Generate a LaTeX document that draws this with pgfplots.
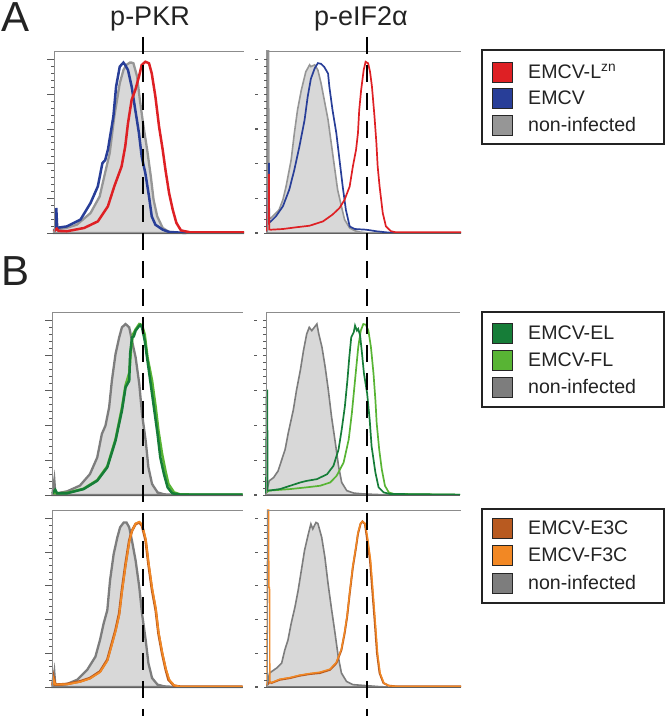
\documentclass[border=0pt]{standalone}
\usepackage{fontspec}
\setmainfont{Liberation Sans}
\usepackage{pgfplots}
\pgfplotsset{compat=1.18}
\definecolor{cred}{RGB}{222,32,36}
\definecolor{cblue}{RGB}{40,62,152}
\definecolor{grayA}{RGB}{150,150,150}
\definecolor{grayB}{RGB}{125,125,125}
\definecolor{fillgray}{RGB}{216,216,216}
\definecolor{cdgreen}{RGB}{22,125,56}
\definecolor{clgreen}{RGB}{88,180,52}
\definecolor{cbrown}{RGB}{184,90,32}
\definecolor{corange}{RGB}{242,136,36}
\definecolor{axgray}{RGB}{140,140,140}
\definecolor{axdark}{RGB}{95,95,95}
\definecolor{tickgray}{RGB}{90,90,90}
\definecolor{txt}{RGB}{35,35,35}
\tikzset{topline/.style={color=axgray, line width=0.9pt}}
\pgfplotsset{
  hist/.style={scale only axis, ymin=0, ymax=105, clip=false, axis on top,
    axis x line=bottom, axis y line=left, axis line style={-},
    x axis line style={color=axdark, line width=0.9pt},
    y axis line style={color=axgray, line width=0.9pt},
    tick align=outside, xtick=\empty,
    ytick={0,20,40,60,80,100}, minor ytick={4,8,12,16,24,28,32,36,44,48,52,56,64,68,72,76,84,88,92,96},
    tick style={color=tickgray, line width=0.8pt},
    minor tick length=3pt},
  leftcol/.style={hist, width=190pt, xmin=0, xmax=2.08, major tick length=7pt, yticklabels={},
    minor xtick={0,0.301,0.477,0.602,0.699,0.778,0.845,0.903,0.954,1,1.301,1.477,1.602,1.699,1.778,1.845,1.903,1.954,2}},
  rightcol/.style={hist, width=194pt, xmin=0, xmax=3.05, major tick length=3pt,
    yticklabel={\textcolor{tickgray}{\rule{2.5pt}{1.2pt}}}, yticklabel style={inner sep=0pt, xshift=-6pt},
    minor xtick={0,0.301,0.477,0.602,0.699,0.778,0.845,0.903,0.954,1,1.301,1.477,1.602,1.699,1.778,1.845,1.903,1.954,2,2.301,2.477,2.602,2.699,2.778,2.845,2.903,2.954,3}}
}
\begin{document}
\begin{tikzpicture}
\useasboundingbox (0,0) rectangle (666pt,716pt);
% ---------------- Row A, p-PKR
\begin{axis}[leftcol, at={(54pt,483pt)}, anchor=south west, height=182pt]
\addplot[draw=grayA, line width=2.3pt, fill=fillgray] coordinates {
(0.00,1.9)(0.03,2.0)(0.14,3.0)(0.25,4.8)(0.40,11.5)(0.50,21.1)(0.55,32.6)(0.61,46.1)(0.66,67.2)(0.72,86.4)(0.76,94.0)(0.79,96.9)(0.83,98.3)(0.85,98.3)(0.87,97.9)(0.91,90.2)(0.94,76.8)(0.98,61.4)(1.02,48.0)(1.06,32.6)(1.09,19.2)(1.13,9.6)(1.19,2.9)(1.26,0.6)(1.40,0.0)(2.08,0.0)} \closedcycle;
\addplot[cblue, line width=2.5pt] coordinates {
(0.00,1.5)(0.02,2.0)(0.025,14.4)(0.035,3.0)(0.14,3.8)(0.29,7.7)(0.40,17.3)(0.48,26.9)(0.53,40.3)(0.56,42.0)(0.59,48.0)(0.65,67.2)(0.68,84.5)(0.72,96.0)(0.76,98.3)(0.78,96.9)(0.81,94.0)(0.85,84.5)(0.89,71.0)(0.93,57.6)(0.96,44.1)(1.00,34.5)(1.04,21.1)(1.07,9.6)(1.11,4.8)(1.19,1.9)(1.26,0.6)(1.45,0.0)};
\addplot[cred, line width=2.5pt] coordinates {
(0.00,1.0)(0.03,2.5)(0.05,1.2)(0.14,1.0)(0.33,2.9)(0.48,6.7)(0.59,15.4)(0.66,26.9)(0.74,38.4)(0.78,50.0)(0.81,63.3)(0.85,76.8)(0.89,82.5)(0.93,90.2)(0.96,96.9)(1.00,98.8)(1.04,97.9)(1.07,92.1)(1.11,78.7)(1.15,61.4)(1.19,48.0)(1.22,36.5)(1.26,23.0)(1.30,13.4)(1.34,5.8)(1.39,1.5)(1.49,0.4)(2.08,0.3)};
\draw[topline] (rel axis cs:0,1) -- (rel axis cs:1,1);
\end{axis}
% ---------------- Row A, p-eIF2a
\begin{axis}[rightcol, at={(267pt,483pt)}, anchor=south west, height=182pt]
\addplot[draw=grayA, line width=1.6pt, fill=fillgray] coordinates {
(0.00,105)(0.025,105)(0.03,8.6)(0.06,8.6)(0.14,11.5)(0.19,13.4)(0.25,19.2)(0.30,26.9)(0.38,42.2)(0.43,57.6)(0.48,71.0)(0.54,82.5)(0.61,93.0)(0.67,97.0)(0.69,96.0)(0.75,97.0)(0.80,94.0)(0.85,86.4)(0.90,76.8)(0.96,65.3)(1.01,51.8)(1.06,38.4)(1.11,25.0)(1.17,15.4)(1.22,7.7)(1.30,2.9)(1.38,1.3)(1.45,0.6)(1.60,0)(3.05,0)} \closedcycle;
\addplot[cblue, line width=1.7pt] coordinates {
(0.00,1.0)(0.02,40.0)(0.03,40.0)(0.035,6.0)(0.06,6.7)(0.14,9.6)(0.25,15.4)(0.35,25.0)(0.43,36.5)(0.51,50.0)(0.59,65.0)(0.64,78.7)(0.69,89.0)(0.75,95.0)(0.80,98.0)(0.85,97.6)(0.90,95.8)(0.96,92.0)(0.98,84.5)(1.03,71.0)(1.09,57.6)(1.14,42.2)(1.19,26.9)(1.24,13.4)(1.30,3.8)(1.38,2.3)(1.56,1.9)(1.72,1.0)(1.87,0.4)(2.0,0)};
\addplot[cred, line width=1.7pt] coordinates {
(0.00,1.0)(0.02,33.6)(0.03,33.6)(0.035,2.0)(0.06,1.9)(0.25,2.3)(0.46,3.3)(0.67,4.2)(0.88,6.7)(1.03,10.6)(1.14,14.4)(1.22,19.2)(1.30,26.9)(1.35,38.4)(1.40,48.0)(1.43,57.6)(1.45,71.0)(1.48,82.5)(1.52,94.0)(1.55,98.8)(1.59,97.9)(1.62,93.0)(1.65,84.5)(1.69,67.2)(1.72,51.8)(1.74,38.4)(1.77,26.9)(1.82,11.5)(1.87,3.8)(1.95,1.0)(2.03,0.4)(3.05,0.4)};
\draw[topline] (rel axis cs:0,1) -- (rel axis cs:1,1);
\end{axis}
% ---------------- Row B1, p-PKR
\begin{axis}[leftcol, at={(52.5pt,221pt)}, anchor=south west, height=183pt]
\addplot[draw=grayB, line width=2.3pt, fill=fillgray] coordinates {
(0.00,1.0)(0.02,8.6)(0.03,1.5)(0.05,1.0)(0.16,2.1)(0.30,5.4)(0.41,12.0)(0.49,21.6)(0.54,35.0)(0.58,39.8)(0.62,50.3)(0.65,65.6)(0.69,80.9)(0.73,90.4)(0.76,96.2)(0.80,98.1)(0.84,96.2)(0.87,88.5)(0.91,79.0)(0.95,63.7)(0.98,46.5)(1.02,31.2)(1.05,15.9)(1.09,6.3)(1.15,1.5)(1.22,0.4)(1.35,0)(2.08,0)} \closedcycle;
\addplot[clgreen, line width=2.5pt] coordinates {
(0.00,1.0)(0.16,1.2)(0.34,3.6)(0.49,8.5)(0.60,16.5)(0.69,32)(0.76,50)(0.80,63)(0.84,70)(0.86,84)(0.88,92)(0.91,95)(0.95,98.1)(0.98,97.5)(1.01,92)(1.04,79.0)(1.09,65.6)(1.13,50.3)(1.16,36.9)(1.20,23.5)(1.24,13.0)(1.27,6.3)(1.33,1.5)(1.40,0.3)(2.08,0.2)};
\addplot[cdgreen, line width=2.5pt] coordinates {
(0.00,1.0)(0.03,3.0)(0.05,1.0)(0.16,1.0)(0.34,3.4)(0.49,8.2)(0.60,15.9)(0.69,31.2)(0.76,48.4)(0.80,61.8)(0.84,65.6)(0.85,80.9)(0.87,90.4)(0.89,91.0)(0.91,94.3)(0.95,97.1)(0.96,97.5)(0.98,96.2)(1.01,88.5)(1.04,77.0)(1.07,65.6)(1.11,50.3)(1.15,35.0)(1.18,21.6)(1.22,12.0)(1.26,4.4)(1.31,1.0)(1.40,0.2)(2.08,0.2)};
\draw[topline] (rel axis cs:0,1) -- (rel axis cs:1,1);
\end{axis}
% ---------------- Row B1, p-eIF2a
\begin{axis}[rightcol, at={(266pt,221pt)}, anchor=south west, height=183pt]
\addplot[draw=grayB, line width=1.6pt, fill=fillgray] coordinates {
(0.00,1.0)(0.01,2.0)(0.05,8.1)(0.12,10.0)(0.19,13.8)(0.25,20.5)(0.30,26.0)(0.35,35.6)(0.43,48.9)(0.48,60.2)(0.54,71.6)(0.59,83.0)(0.64,92.4)(0.68,96.2)(0.72,94.3)(0.76,96.2)(0.80,98.1)(0.83,92.4)(0.88,84.8)(0.93,73.5)(0.98,60.2)(1.03,45.0)(1.09,30.0)(1.14,16.7)(1.19,7.2)(1.27,2.5)(1.38,1.1)(1.53,0.6)(1.80,0.2)(1.95,0)} \closedcycle;
\addplot[clgreen, line width=1.7pt] coordinates {
(0.00,1.0)(0.04,2.5)(0.38,3.4)(0.64,4.4)(0.85,5.3)(1.01,7.2)(1.11,11.0)(1.22,18.6)(1.30,31.8)(1.35,47.0)(1.40,65.9)(1.45,84.8)(1.49,94.3)(1.53,98.1)(1.57,97.7)(1.61,94.3)(1.65,84.8)(1.69,69.7)(1.72,54.5)(1.74,41.3)(1.78,26.0)(1.82,14.8)(1.87,5.3)(1.93,1.5)(2.01,0.6)(3.05,0.2)};
\addplot[cdgreen, line width=1.7pt] coordinates {
(0.00,1.0)(0.01,60.0)(0.02,60.0)(0.025,2.5)(0.04,2.5)(0.22,3.4)(0.38,5.3)(0.54,7.2)(0.64,8.1)(0.80,9.1)(0.96,11.9)(1.06,16.7)(1.14,26.0)(1.19,37.5)(1.24,50.8)(1.28,65.9)(1.31,79.2)(1.34,90.5)(1.38,93.4)(1.40,97.2)(1.43,94.3)(1.45,95.3)(1.48,91.5)(1.51,81.0)(1.54,69.7)(1.59,58.3)(1.63,43.2)(1.66,28.0)(1.72,12.9)(1.77,4.4)(1.85,1.5)(1.95,0.6)(3.05,0.2)};
\draw[topline] (rel axis cs:0,1) -- (rel axis cs:1,1);
\end{axis}
% ---------------- Row B2, p-PKR
\begin{axis}[leftcol, at={(52.5pt,29pt)}, anchor=south west, height=177pt]
\addplot[draw=grayB, line width=2.3pt, fill=fillgray] coordinates {
(0.00,1.0)(0.02,8.6)(0.03,1.4)(0.07,1.4)(0.16,1.8)(0.27,4.3)(0.38,10.2)(0.47,18.0)(0.52,27.9)(0.56,37.7)(0.60,45.6)(0.63,63.3)(0.67,79.0)(0.71,88.8)(0.74,94.7)(0.78,97.6)(0.81,97.6)(0.84,94.7)(0.87,86.8)(0.91,75.0)(0.95,59.3)(0.98,43.6)(1.02,27.9)(1.05,14.1)(1.09,5.3)(1.15,1.4)(1.22,0.4)(1.35,0)(2.08,0)} \closedcycle;
\addplot[cbrown, line width=2.6pt] coordinates {
(0.00,1.0)(0.01,6.0)(0.03,1.5)(0.05,1.4)(0.16,1.8)(0.30,3.3)(0.41,5.3)(0.52,9.2)(0.60,16.1)(0.65,25.9)(0.69,33.8)(0.73,43.6)(0.76,57.4)(0.80,73.1)(0.84,86.8)(0.87,92.7)(0.91,96.7)(0.95,97.6)(0.98,95.7)(1.02,86.8)(1.05,73.1)(1.09,57.4)(1.13,45.6)(1.16,31.8)(1.20,20.0)(1.24,10.2)(1.27,4.3)(1.33,0.8)(1.40,0.2)(2.08,0.2)};
\addplot[corange, line width=1.8pt] coordinates {
(0.00,1.0)(0.01,5.0)(0.03,1.5)(0.16,1.6)(0.30,3.0)(0.41,5.0)(0.52,8.8)(0.60,15.5)(0.65,25.0)(0.69,33.0)(0.73,42.5)(0.76,56.0)(0.80,72.0)(0.84,86.0)(0.87,92.5)(0.91,97.0)(0.95,98.0)(0.98,96.5)(1.02,88.0)(1.05,74.5)(1.09,59.0)(1.13,47.0)(1.16,33.0)(1.20,21.0)(1.24,11.0)(1.28,4.3)(1.33,1.0)(1.40,0.2)(2.08,0.2)};
\draw[topline] (rel axis cs:0,1) -- (rel axis cs:1,1);
\end{axis}
% ---------------- Row B2, p-eIF2a
\begin{axis}[rightcol, at={(267pt,29pt)}, anchor=south west, height=177pt]
\addplot[draw=grayB, line width=1.6pt, fill=fillgray] coordinates {
(0.00,1.0)(0.04,8.3)(0.15,11.2)(0.23,14.1)(0.28,22.0)(0.33,27.9)(0.38,37.7)(0.44,47.5)(0.49,57.4)(0.54,69.2)(0.59,81.0)(0.65,90.8)(0.69,96.7)(0.72,93.8)(0.77,97.6)(0.80,97.0)(0.86,88.8)(0.91,77.0)(0.96,61.3)(1.01,47.5)(1.07,31.8)(1.12,18.0)(1.17,8.3)(1.25,3.3)(1.35,1.4)(1.56,0.8)(1.77,0.2)(1.90,0)} \closedcycle;
\addplot[cbrown, line width=2pt] coordinates {
(0.00,1.0)(0.04,3.0)(0.07,2.4)(0.20,4.3)(0.36,5.3)(0.51,6.7)(0.67,7.7)(0.83,8.3)(0.99,10.2)(1.09,14.1)(1.17,22.0)(1.22,31.8)(1.26,41.7)(1.30,55.4)(1.35,71.1)(1.40,82.9)(1.43,90.8)(1.47,96.7)(1.50,98.2)(1.54,96.7)(1.57,88.8)(1.62,75.0)(1.66,55.4)(1.70,35.8)(1.73,20.0)(1.77,8.3)(1.83,2.4)(1.91,0.8)(2.04,0.3)(3.05,0.3)};
\addplot[corange, line width=1.4pt] coordinates {
(0.00,1.0)(0.01,105)(0.025,105)(0.03,59)(0.04,59)(0.045,3.0)(0.07,2.6)(0.20,4.6)(0.36,5.6)(0.51,7.0)(0.67,8.0)(0.83,8.8)(0.99,10.6)(1.09,14.6)(1.17,22.5)(1.22,32.5)(1.26,42.5)(1.30,56.0)(1.35,72.0)(1.40,83.5)(1.43,91.5)(1.47,97.0)(1.50,98.2)(1.54,97.2)(1.58,89.0)(1.63,75.0)(1.67,55.0)(1.71,35.0)(1.74,19.5)(1.78,8.0)(1.84,2.2)(1.92,0.7)(2.05,0.3)(3.05,0.3)};
\draw[topline] (rel axis cs:0,1) -- (rel axis cs:1,1);
\end{axis}
% ---------------- dashed reference lines
\draw[black, line width=2.7pt, dash pattern=on 17pt off 11pt] (143pt,679pt) -- (143pt,0pt);
\draw[black, line width=2.7pt, dash pattern=on 17pt off 11pt] (367pt,679pt) -- (367pt,0pt);
% ---------------- panel letters and column titles
\node[anchor=base west, inner sep=0pt, text=txt, font=\fontsize{42}{42}\selectfont] at (1pt,684pt) {A};
\node[anchor=base west, inner sep=0pt, text=txt, font=\fontsize{42}{42}\selectfont] at (1pt,430pt) {B};
\node[anchor=base, inner sep=0pt, text=txt, font=\fontsize{27}{27}\selectfont] at (150pt,690pt) {p-PKR};
\node[anchor=base, inner sep=0pt, text=txt, font=\fontsize{27}{27}\selectfont] at (361pt,690pt) {p-eIF2α};
% ---------------- legends
\tikzset{legbox/.style={draw=txt, line width=1.3pt}, legsq/.style={draw=black!85, line width=0.9pt},
  legtxt/.style={anchor=base west, inner sep=0pt, text=txt, font=\fontsize{19.6}{20}\selectfont}}
% legend 1
\draw[legbox] (482pt,666pt) rectangle (664pt,572pt);
\draw[legsq, fill=cred] (492pt,654pt) rectangle (512pt,634pt);
\draw[legsq, fill=cblue] (492pt,628pt) rectangle (512pt,608pt);
\draw[legsq, fill=grayA] (492pt,601pt) rectangle (512pt,581pt);
\node[legtxt] at (528pt,637pt) {EMCV-L\textsuperscript{zn}};
\node[legtxt] at (528pt,611pt) {EMCV};
\node[legtxt] at (528pt,584pt) {non-infected};
% legend 2
\draw[legbox] (482pt,404pt) rectangle (664pt,309pt);
\draw[legsq, fill=cdgreen] (492pt,393pt) rectangle (512pt,373pt);
\draw[legsq, fill=clgreen] (492pt,366pt) rectangle (512pt,346pt);
\draw[legsq, fill=grayB] (492pt,339pt) rectangle (512pt,319pt);
\node[legtxt] at (528pt,376.5pt) {EMCV-EL};
\node[legtxt] at (528pt,349.5pt) {EMCV-FL};
\node[legtxt] at (528pt,322.5pt) {non-infected};
% legend 3
\draw[legbox] (482pt,207pt) rectangle (664pt,113pt);
\draw[legsq, fill=cbrown] (492pt,198pt) rectangle (512pt,178pt);
\draw[legsq, fill=corange] (492pt,171pt) rectangle (512pt,151pt);
\draw[legsq, fill=grayB] (492pt,143pt) rectangle (512pt,123pt);
\node[legtxt] at (528pt,181pt) {EMCV-E3C};
\node[legtxt] at (528pt,154pt) {EMCV-F3C};
\node[legtxt] at (528pt,126.5pt) {non-infected};
\end{tikzpicture}
\end{document}
